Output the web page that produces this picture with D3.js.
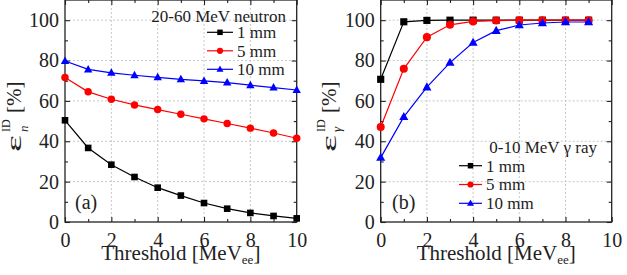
<!DOCTYPE html>
<html><head><meta charset="utf-8">
<script src="https://cdn.jsdelivr.net/npm/d3@7"></script>
<style>body{margin:0;background:#fff}svg{display:block}</style>
</head><body><svg id="c" width="627" height="275"></svg>
<script>
const thresholdsA = [0,1,2,3,4,5,6,7,8,9,10];
const neutron1mm  = [50.4,36.7,28.4,22.3,17.0,13.1,9.4,6.6,4.5,3.0,1.8];
const neutron5mm  = [71.6,64.5,60.8,58.0,55.7,53.4,51.1,48.8,46.5,44.1,41.5];
const neutron10mm = [79.8,75.6,73.9,72.7,71.7,70.7,69.9,69.1,67.8,66.6,65.4];
const thresholdsB = [0,1,2,3,4,5,6,7,8,9];
const gamma1mm  = [70.7,99.2,99.9,100,100,100,100,100,100,100];
const gamma5mm  = [47.1,75.9,91.6,97.7,99.4,99.8,100,100,100,100];
const gamma10mm = [31.9,52.1,66.8,79.0,88.9,94.8,97.6,98.6,99.1,99.1];
const seriesNames = ["1 mm","5 mm","10 mm"];
const xTicks = [0,2,4,6,8,10];
const yTicks = [0,20,40,60,80,100];

const FONT = "Liberation Serif";
const colors = ["#000000","#ff0000","#0000ff"];
const svg = d3.select("#c").attr("font-family", FONT);
function T(sel){ return sel.attr("font-family", FONT).attr("fill","#222"); }

function panel(opt){
  const x = d3.scaleLinear().domain([0,10]).range([opt.x0, opt.x1]);
  const y = d3.scaleLinear().domain([0,110]).range([222, 0]);
  const g = svg.append("g");
  g.selectAll(".gx").data(xTicks.filter(v=>v>0&&v<10)).join("line")
    .attr("x1",d=>x(d)).attr("x2",d=>x(d)).attr("y1",y(0)).attr("y2",y(110))
    .attr("stroke","#bbb").attr("stroke-width",0.8).attr("stroke-dasharray","2,2");
  g.selectAll(".gy").data(yTicks.filter(v=>v>0)).join("line")
    .attr("y1",d=>y(d)).attr("y2",d=>y(d)).attr("x1",x(0)).attr("x2",x(10))
    .attr("stroke","#bbb").attr("stroke-width",0.8).attr("stroke-dasharray","2,2");
  const xMinor = d3.range(1,10,2), yMinor = d3.range(10,110,20);
  const mk = (axisFn, sc, vals, len, lab) => axisFn(sc).tickValues(vals).tickSizeInner(len).tickSizeOuter(0).tickFormat(lab?d3.format("d"):"");
  const addAxis = (axis, tr) => {
    const a = g.append("g").attr("transform",tr).call(axis);
    a.attr("font-family", FONT);
    a.select(".domain").remove();
    a.selectAll("line").attr("stroke","#222").attr("stroke-width",1.1);
    a.selectAll("text").attr("font-size",20).attr("fill","#222").attr("font-family",FONT);
    return a;
  };
  const bx = addAxis(mk(d3.axisBottom,x,xTicks,-5,true),`translate(0,${y(0)})`);
  bx.selectAll("text").attr("y",25).attr("dy",0);
  addAxis(mk(d3.axisBottom,x,xMinor,-3,false),`translate(0,${y(0)})`);
  addAxis(mk(d3.axisTop,x,xTicks,-5,false),`translate(0,${y(110)})`);
  addAxis(mk(d3.axisTop,x,xMinor,-3,false),`translate(0,${y(110)})`);
  const ly = addAxis(mk(d3.axisLeft,y,yTicks,-5,true),`translate(${x(0)},0)`);
  ly.selectAll("text").attr("x",-6);
  addAxis(mk(d3.axisLeft,y,yMinor,-3,false),`translate(${x(0)},0)`);
  addAxis(mk(d3.axisRight,y,yTicks,-5,false),`translate(${x(10)},0)`);
  addAxis(mk(d3.axisRight,y,yMinor,-3,false),`translate(${x(10)},0)`);
  g.append("rect").attr("x",x(0)).attr("y",y(110)).attr("width",x(10)-x(0)).attr("height",y(0)-y(110))
    .attr("fill","none").attr("stroke","#222").attr("stroke-width",1.3);
  const line = d3.line().x(d=>x(d[0])).y(d=>y(d[1]));
  const clipId = "clip"+opt.id;
  svg.append("clipPath").attr("id",clipId).append("rect").attr("x",x(0)-6).attr("y",y(110)).attr("width",x(10)-x(0)+12).attr("height",y(0)-y(110)+6);
  const sg = g.append("g").attr("clip-path",`url(#${clipId})`);
  const drawMarker = (sel, i, cx, cy, s) => {
    if(i===0) sel.append("rect").attr("x",cx-s*0.55).attr("y",cy-s*0.55).attr("width",s*1.1).attr("height",s*1.1).attr("fill",colors[i]);
    else if(i===1) sel.append("circle").attr("cx",cx).attr("cy",cy).attr("r",s*0.62).attr("fill",colors[i]);
    else sel.append("path").attr("d",`M${cx},${cy-s*0.75}L${cx+s*0.7},${cy+s*0.5}L${cx-s*0.7},${cy+s*0.5}Z`).attr("fill",colors[i]);
  };
  opt.series.forEach((vals,i)=>{
    const pts = opt.xs.map((v,k)=>[v,vals[k]]);
    sg.append("path").attr("d",line(pts)).attr("fill","none").attr("stroke",colors[i]).attr("stroke-width",1.2);
    pts.forEach(p=>drawMarker(sg,i,x(p[0]),y(p[1]),opt.ms));
  });
  const L = opt.legend;
  T(g.append("text")).attr("x",L.titleX).attr("y",L.titleY).attr("text-anchor","end").attr("dy","0.35em")
    .attr("font-size",17).text(L.title);
  seriesNames.forEach((n,i)=>{
    const yy = L.y0 + i*L.dy;
    g.append("line").attr("x1",L.lx0).attr("x2",L.lx1).attr("y1",yy).attr("y2",yy).attr("stroke",colors[i]).attr("stroke-width",1.2);
    drawMarker(g,i,(L.lx0+L.lx1)/2,yy,5);
    T(g.append("text")).attr("x",L.lx1+4).attr("y",yy).attr("dy","0.35em").attr("font-size",17).text(n);
  });
  T(g.append("text")).attr("x",opt.labX).attr("y",202).attr("dy","0.35em").attr("font-size",20).text(opt.lab);
  const xt = T(g.append("text")).attr("x",(x(0)+x(10))/2).attr("y",260).attr("text-anchor","middle").attr("font-size",21);
  xt.append("tspan").text("Threshold [MeV");
  xt.append("tspan").attr("dy",4).attr("font-size",13).text("ee");
  xt.append("tspan").attr("dy",-4).text("]");
  // y title, rotated group: local x -> page up, local y -> page right
  const yg = g.append("g").attr("transform",`translate(${opt.ytX},152) rotate(-90)`);
  T(yg.append("text")).attr("x",0).attr("y",0).attr("font-size",22).attr("textLength",17).attr("lengthAdjust","spacingAndGlyphs").text("ε");
  T(yg.append("text")).attr("x",20).attr("y",opt.subDy).attr("font-size",13).attr("font-style","italic").text(opt.sub);
  T(yg.append("text")).attr("x",20).attr("y",-11).attr("font-size",12).text("ID");
  T(yg.append("text")).attr("x",39).attr("y",0).attr("font-size",21).text("[%]");
}

panel({id:"a", x0:65, x1:296.7, xs:thresholdsA, series:[neutron1mm,neutron5mm,neutron10mm], ms:6,
  legend:{title:"20-60 MeV neutron", titleX:286, titleY:16.5, lx0:207, lx1:233, y0:32.3, dy:18.5},
  labX:75, lab:"(a)", ytX:21, sub:"n", subDy:7});
panel({id:"b", x0:380.7, x1:611.7, xs:thresholdsB, series:[gamma1mm,gamma5mm,gamma10mm], ms:6.5,
  legend:{title:"0-10 MeV γ ray", titleX:597, titleY:146.7, lx0:459, lx1:482, y0:165.7, dy:18.8},
  labX:392, lab:"(b)", ytX:336, sub:"γ", subDy:5});
</script></body></html>
